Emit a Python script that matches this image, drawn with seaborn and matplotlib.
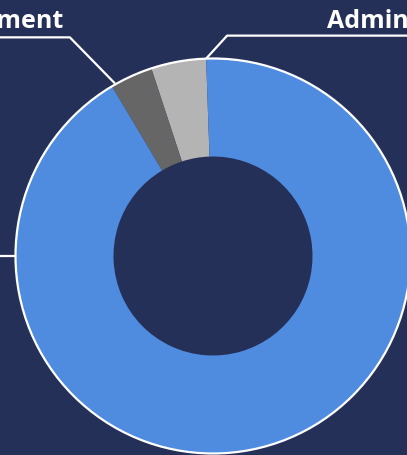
import numpy as np
import matplotlib
matplotlib.use("Agg")
import matplotlib.pyplot as plt
import seaborn as sns
from matplotlib.patches import Circle

# slice data (share of total, %)
categories = ["Administration", "Management", "Programs"]
shares = [4.5, 3.5, 92.0]
colors = ["#B4B4B4", "#666666", "#4F8CDF"]

BG = "#253058"

sns.set_theme(style="white")
plt.rcParams["font.family"] = ["Open Sans", "DejaVu Sans"]

fig = plt.figure(figsize=(4.07, 4.56), dpi=100, facecolor=BG)
ax = fig.add_axes([0, 0, 1, 1])
ax.set_facecolor(BG)

cx, cy = 213, 199
r_out, r_in = 197.5, 99.5

wedges, _ = ax.pie(
    shares,
    colors=colors,
    startangle=92,
    counterclock=True,
    radius=r_out,
    center=(cx, cy),
    wedgeprops=dict(width=r_out - r_in, linewidth=0),
)
ax.add_patch(Circle((cx, cy), r_out, fill=False, edgecolor="white", lw=1.6, zorder=5))
ax.set_xlim(0, 407)
ax.set_ylim(0, 456)
ax.set_aspect("auto")
ax.axis("off")


def edge_point(angle):
    a = np.deg2rad(angle)
    return cx + r_out * np.cos(a), cy + r_out * np.sin(a)


line_kw = dict(color="white", lw=1.6, solid_capstyle="butt", zorder=6)
text_kw = dict(color="white", fontsize=18, fontweight="bold", va="baseline")

# Administration label: leader from the start edge of its wedge
x0, y0 = edge_point(wedges[0].theta1)
ax.plot([x0, x0 + 21, 420], [y0, y0 + 23, y0 + 23], **line_kw)
ax.text(327, 428, categories[0], ha="left", **text_kw)

# Management label
x0, y0 = edge_point(wedges[1].theta2)
ax.plot([x0 + 3, x0 - 42, -10], [y0 + 3, y0 + 49, y0 + 49], **line_kw)
ax.text(64, 428, categories[1], ha="right", **text_kw)

# Programs label (left, outside the visible area)
x0, y0 = edge_point(180)
ax.plot([x0, -10], [y0, y0], **line_kw)
ax.text(-14, y0 - 6, categories[2], ha="right", **text_kw)

fig.savefig("out.png", dpi=100, facecolor=BG)
